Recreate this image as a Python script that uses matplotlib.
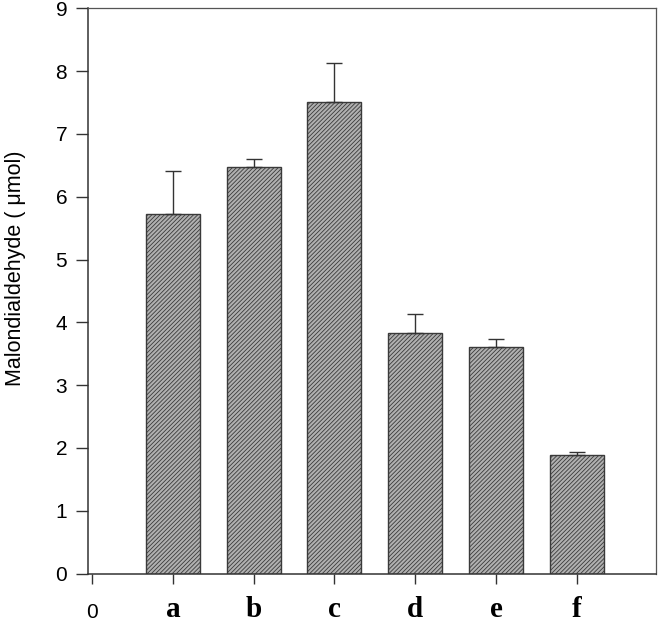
import matplotlib
matplotlib.use("Agg")
import matplotlib.pyplot as plt
import numpy as np

categories = ["a", "b", "c", "d", "e", "f"]
values = [5.72, 6.48, 7.51, 3.83, 3.60, 1.89]
errors = [0.69, 0.12, 0.62, 0.31, 0.13, 0.04]
yticks = [0, 1, 2, 3, 4, 5, 6, 7, 8, 9]
ylabel = "Malondialdehyde ( \u03bcmol)"

plt.rcParams['hatch.linewidth'] = 0.6
plt.rcParams['hatch.color'] = '#3a3a3a'

fig = plt.figure(figsize=(6.6, 6.26), dpi=100)
ax = fig.add_axes([88/660, 1-573.5/626, (656-88)/660, (573.5-8.3)/626])

x = np.arange(1, len(categories)+1)
ax.bar(x, values, width=0.67, color='#b0b0b0', edgecolor='#3a3a3a',
       linewidth=1.0, hatch='////////', zorder=2)
ax.errorbar(x, values, yerr=[np.zeros(len(errors)), errors], fmt='none',
            ecolor='#333333', elinewidth=1.0, capsize=6, capthick=1.0, zorder=3)

ax.set_xlim(-0.05, 6.98)
ax.set_ylim(0, 9)
ax.set_yticks(yticks)
ax.set_yticklabels([str(t) for t in yticks], fontsize=15, family='Liberation Sans')
ax.set_xticks([0] + list(x))
ax.set_xticklabels(["0"] + categories)
for i, lab in enumerate(ax.get_xticklabels()):
    if i == 0:
        lab.set_fontfamily('Liberation Sans')
        lab.set_fontsize(15)
        lab.set_y(-0.012)
    else:
        lab.set_fontfamily('Liberation Serif')
        lab.set_fontweight('bold')
        lab.set_fontsize(21)
ax.tick_params(axis='y', direction='out', length=9, width=1, color='#333333', pad=6)
ax.tick_params(axis='x', direction='out', length=7, width=1, color='#333333', pad=9)
ax.set_ylabel(ylabel, fontsize=15.5, family='Liberation Sans')
ax.yaxis.set_label_coords(-0.110, 0.54)

for side in ['left', 'bottom']:
    ax.spines[side].set_linewidth(1.1)
    ax.spines[side].set_color('#333333')
for side in ['top', 'right']:
    ax.spines[side].set_linewidth(0.9)
    ax.spines[side].set_color('#555555')

fig.savefig("out.png", dpi=100)
